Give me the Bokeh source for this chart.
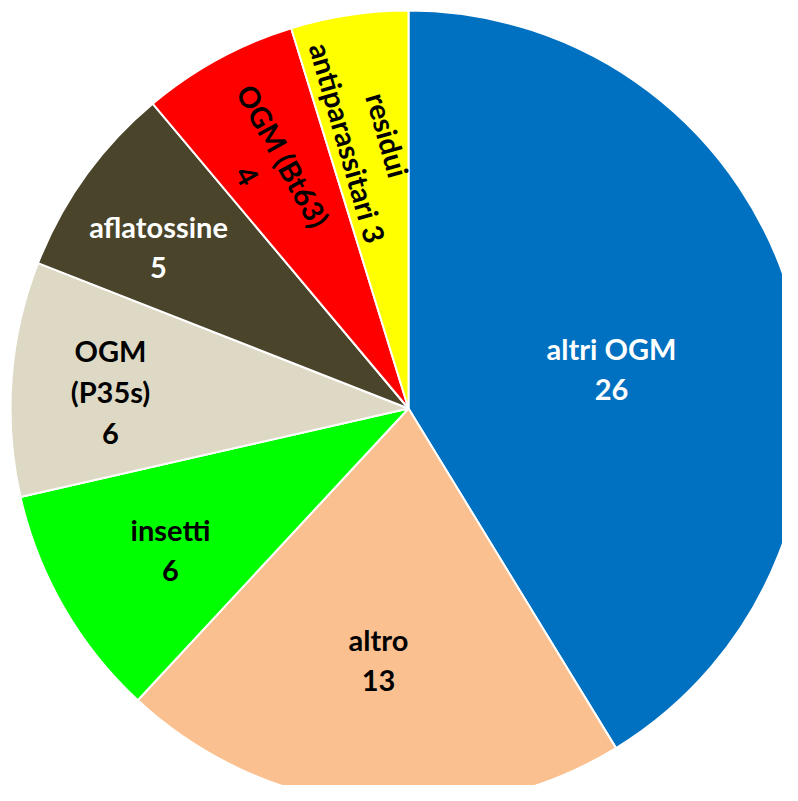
import math
from bokeh.plotting import figure
from bokeh.models import Range1d, ColumnDataSource
from bokeh.core.properties import value
from bokeh.embed import file_html
from bokeh.resources import INLINE

# data
categories = ["altri OGM", "altro", "insetti", "OGM (P35s)", "aflatossine", "OGM (Bt63)", "residui antiparassitari"]
counts = [26, 13, 6, 6, 5, 4, 3]
colors = ["#0070C0", "#FAC090", "#00FF00", "#DDD9C4", "#4A452A", "#FF0000", "#FFFF00"]
label_texts = ["altri OGM\n26", "altro\n13", "insetti\n6", "OGM\n(P35s)\n6",
               "aflatossine\n5", "OGM (Bt63)\n4", "residui\nantiparassitari  3"]
label_colors = ["white", "black", "black", "black", "white", "black", "black"]

# layout (pixel positions of label centres in the picture, rotation in degrees clockwise)
label_px = [(611, 368), (378, 659), (170, 549), (110, 391), (158, 246), (265, 165), (368, 140)]
label_rot = [0, 0, 0, 0, 0, 61, 74]

CX, CY, R = 408, 408, 398

total = sum(counts)
starts, ends = [], []
cum = 0
for c in counts:
    a0 = math.pi / 2 - 2 * math.pi * (cum + c) / total
    a1 = math.pi / 2 - 2 * math.pi * cum / total
    starts.append(a0)
    ends.append(a1)
    cum += c

src = ColumnDataSource(dict(start=starts, end=ends, color=colors, cat=categories))

p = figure(width=782, height=785, output_backend="svg", toolbar_location=None,
           x_range=Range1d(0 - CX, 782 - CX), y_range=Range1d(CY - 785, CY - 0),
           min_border=0)
p.axis.visible = False
p.grid.visible = False
p.outline_line_color = None
p.background_fill_color = "white"
p.border_fill_color = "white"

p.wedge(x=0, y=0, radius=R, start_angle="start", end_angle="end", direction="anticlock",
        fill_color="color", line_color="white", line_width=2, source=src)

lsrc = ColumnDataSource(dict(
    x=[px - CX for px, py in label_px],
    y=[CY - py for px, py in label_px],
    text=label_texts,
    color=label_colors,
    angle=[-math.radians(a) for a in label_rot],
))
p.text(x="x", y="y", text="text", angle="angle", source=lsrc,
       text_font=value("Lato"), text_font_style="bold", text_font_size="29px",
       text_color="color", text_align="center", text_baseline="middle",
       text_line_height=1.16)

open("out.html", "w").write(file_html(p, INLINE))
